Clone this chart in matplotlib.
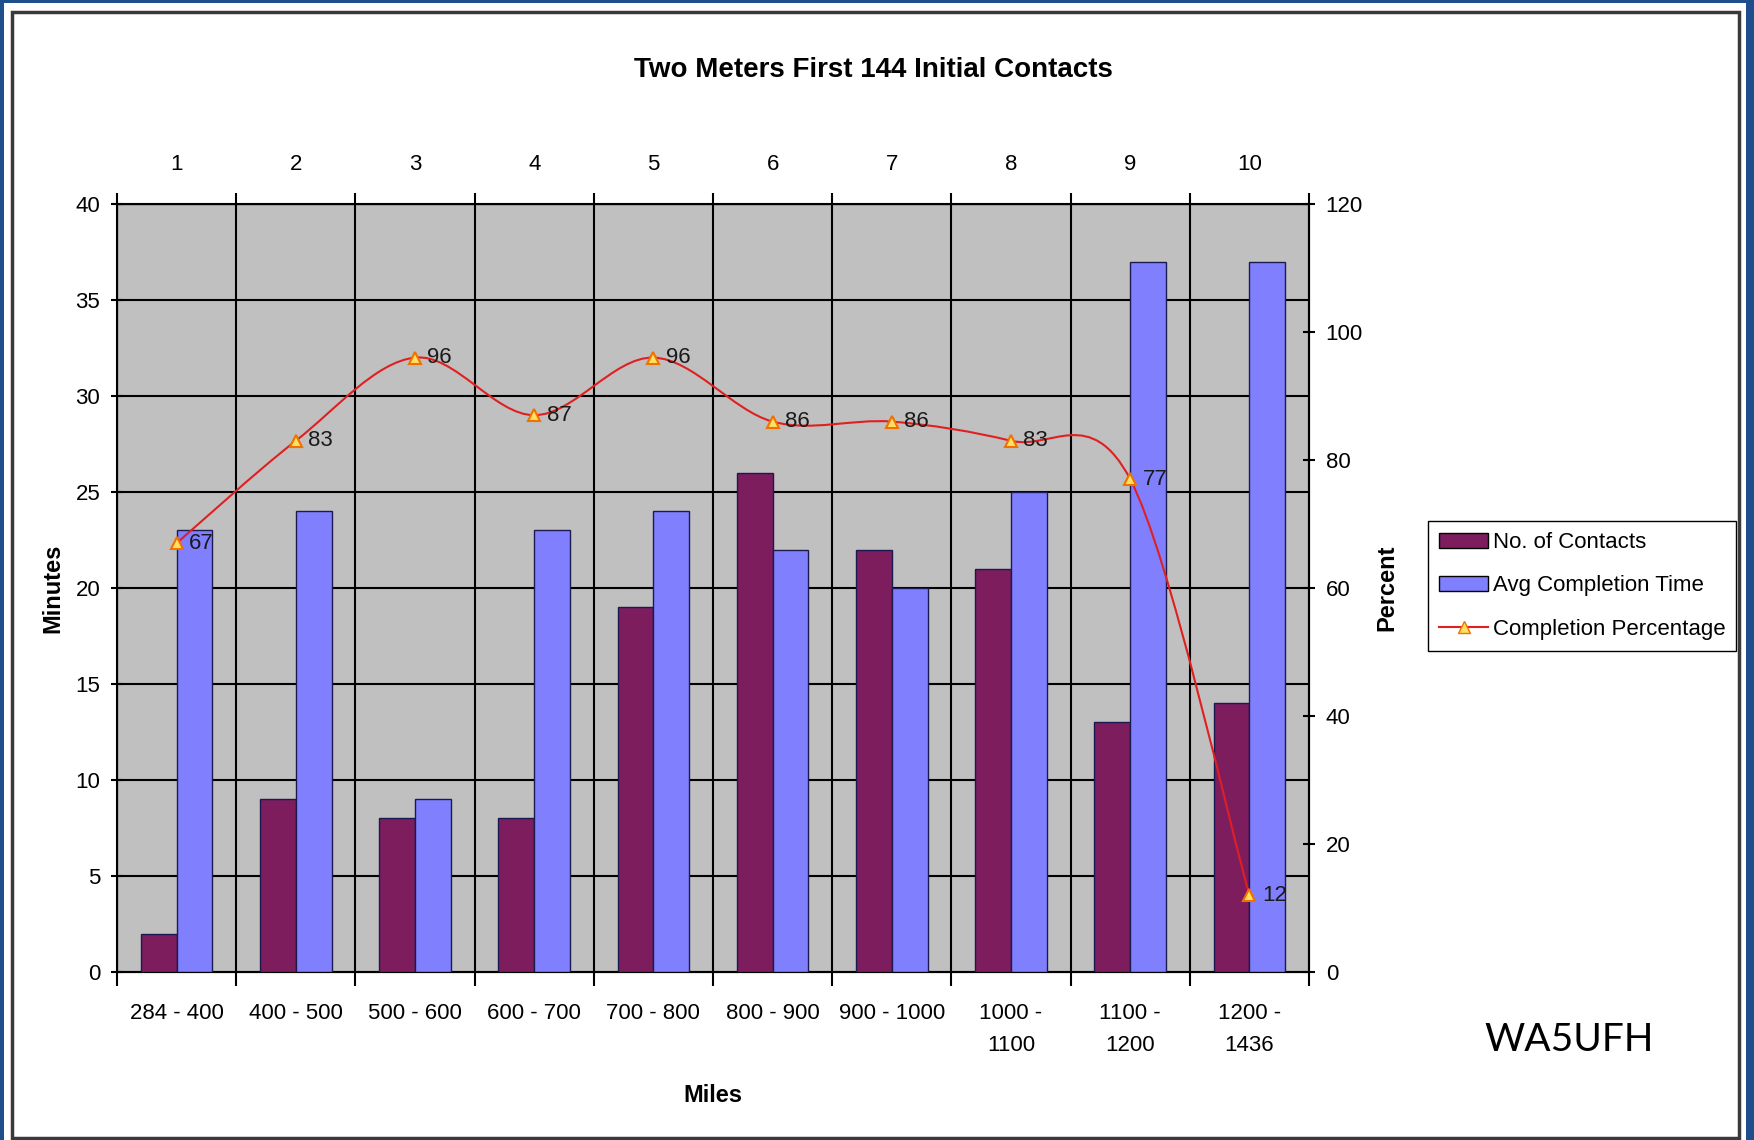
import matplotlib
matplotlib.use("Agg")
import matplotlib.pyplot as plt
from matplotlib.path import Path
from matplotlib.patches import PathPatch, Rectangle
from matplotlib.lines import Line2D
import numpy as np

plt.rcParams['font.family'] = ['Liberation Sans Narrow', 'Liberation Sans', 'DejaVu Sans']

# chart data
ranges = ["284 - 400", "400 - 500", "500 - 600", "600 - 700", "700 - 800",
          "800 - 900", "900 - 1000", "1000 -\n1100", "1100 -\n1200", "1200 -\n1436"]
groups = [1, 2, 3, 4, 5, 6, 7, 8, 9, 10]
contacts = [2, 9, 8, 8, 19, 26, 22, 21, 13, 14]
avg_time = [23, 24, 9, 23, 24, 22, 20, 25, 37, 37]
pct = [67, 83, 96, 87, 96, 86, 86, 83, 77, 12]

purple = "#7D1D5E"
blue = "#8080FF"
navy = "#1F4E8C"

fig = plt.figure(figsize=(17.54, 11.4), dpi=100)
fig.patch.set_facecolor(navy)
fig.patches.append(Rectangle((4 / 1754, 0), 1746 / 1754 - 4 / 1754, 1 - 3 / 1140,
                             transform=fig.transFigure, facecolor="white", edgecolor="none", zorder=-10))
fig.patches.append(Rectangle((12 / 1754, 2 / 1140), (1739 - 12) / 1754, (1128 - 2) / 1140,
                             transform=fig.transFigure, facecolor="white", edgecolor="#3a3a3a",
                             linewidth=2.5, zorder=-9))

ax = fig.add_axes([117 / 1754, 1 - 972 / 1140, (1309 - 117) / 1754, (972 - 204) / 1140])
ax.set_facecolor("#C0C0C0")

x = np.array(groups, dtype=float)
w = 0.3
ax.bar(x - w / 2, contacts, w, color=purple, edgecolor="#1a1a50", linewidth=1, zorder=3,
       label="No. of Contacts")
ax.bar(x + w / 2, avg_time, w, color=blue, edgecolor="#1a1a50", linewidth=1, zorder=3,
       label="Avg Completion Time")

ax.set_xlim(0.5, 10.5)
ax.set_ylim(0, 40)
ax.set_yticks(range(0, 41, 5))
ax.set_xticks(x)
ax.set_xticklabels(ranges, fontsize=16, linespacing=1.73)
ax.set_xticks(np.arange(0.5, 11, 1), minor=True)
ax.tick_params(axis="x", which="major", length=0, pad=22)
ax.tick_params(axis="x", which="minor", length=10, width=1.5, direction="out")
ax.tick_params(axis="y", labelsize=16, length=8, width=1.5, direction="inout", pad=8)
ax.grid(axis="y", color="black", linewidth=1.5, zorder=1)
ax.grid(axis="x", which="minor", color="black", linewidth=1.5, zorder=1)
ax.set_axisbelow(True)
for s in ax.spines.values():
    s.set_linewidth(1.5)
ax.set_xlabel("Miles", fontsize=17, fontweight="bold", labelpad=20)
ax.set_ylabel("Minutes", fontsize=17, fontweight="bold", labelpad=8)

# top axis with group numbers
top = ax.secondary_xaxis("top")
top.set_xticks(x)
top.set_xticklabels([str(g) for g in groups], fontsize=16)
top.set_xticks(np.arange(0.5, 11, 1), minor=True)
top.tick_params(axis="x", which="major", length=0, pad=21)
top.tick_params(axis="x", which="minor", length=8, width=1.5, direction="out")

# right axis: completion percentage, smoothed line
ax2 = ax.twinx()
ax2.set_ylim(0, 120)
ax2.set_yticks(range(0, 121, 20))
ax2.tick_params(axis="y", labelsize=16, length=8, width=1.5, direction="inout", pad=8)
ax2.set_ylabel("Percent", fontsize=17, fontweight="bold", labelpad=9)

p = np.column_stack([x, np.array(pct, dtype=float)])
pp = np.vstack([p[0], p, p[-1]])
verts = [tuple(p[0])]
codes = [Path.MOVETO]
for i in range(len(p) - 1):
    a, b, c, d = pp[i], pp[i + 1], pp[i + 2], pp[i + 3]
    verts += [tuple(b + (c - a) / 6), tuple(c - (d - b) / 6), tuple(c)]
    codes += [Path.CURVE4] * 3
ax2.add_patch(PathPatch(Path(verts, codes), facecolor="none", edgecolor="#E02020", linewidth=1.5, zorder=4))
ax2.plot(x, pct, linestyle="none", marker="^", markersize=9, markerfacecolor="#FFE060",
         markeredgecolor="#F07000", markeredgewidth=1.5, zorder=5)
for xi, v in zip(x, pct):
    ax2.annotate(str(v), (xi, v), xytext=(9, 0), textcoords="offset points",
                 va="center", ha="left", fontsize=16, color="#1a1a1a", zorder=6)

handles = [
    Rectangle((0, 0), 1, 1, facecolor=purple, edgecolor="black"),
    Rectangle((0, 0), 1, 1, facecolor=blue, edgecolor="black"),
    Line2D([], [], color="#E02020", marker="^", markerfacecolor="#FFE060",
           markeredgecolor="#F07000", markersize=8),
]
fig.legend(handles, ["No. of Contacts", "Avg Completion Time", "Completion Percentage"],
           loc="upper left", bbox_to_anchor=(1417 / 1754, 1 - 510 / 1140), fontsize=16,
           frameon=True, fancybox=False, edgecolor="black", framealpha=1,
           handlelength=2.2, handletextpad=0.2, borderpad=0.5, labelspacing=1.0)

fig.text(873 / 1754, 1 - 70 / 1140, "Two Meters First 144 Initial Contacts",
         ha="center", va="center", fontsize=20, fontweight="bold")
fig.text(1569 / 1754, 1 - 1040 / 1140, "WA5UFH", ha="center", va="center",
         fontsize=28, family=["Lato", "DejaVu Sans"])

fig.savefig("out.png", dpi=100, facecolor=fig.get_facecolor())
